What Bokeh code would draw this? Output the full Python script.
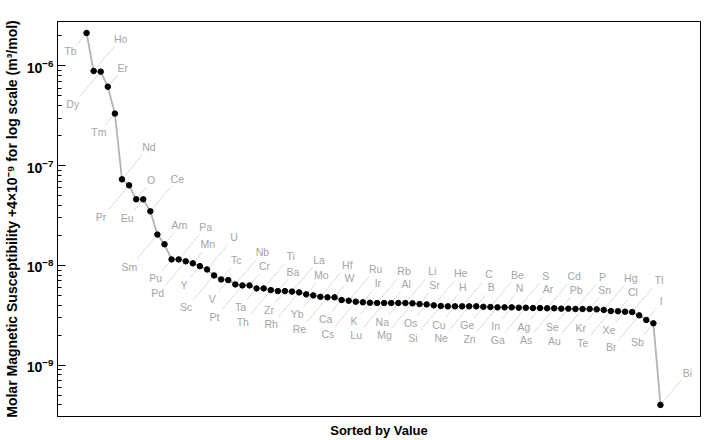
import math
from bokeh.plotting import figure
from bokeh.models import Range1d, ColumnDataSource, FixedTicker, LogTickFormatter
from bokeh.embed import file_html
from bokeh.resources import INLINE
from bokeh.core.properties import value

# ---- data ----
elements = ["Tb", "Ho", "Dy", "Er", "Tm", "Nd", "Pr", "O", "Eu", "Ce",
            "Sm", "Am", "Pu", "Pa", "Pd", "Mn", "Y", "U", "Sc", "Tc",
            "V", "Nb", "Pt", "Cr", "Ta", "Ti", "Th", "Ba", "Zr", "La",
            "Rh", "Mo", "Yb", "Hf", "Re", "W", "Ca", "Ru", "Cs", "Ir",
            "K", "Rb", "Lu", "Al", "Na", "Li", "Mg", "Sr", "Os", "He",
            "Si", "H", "Cu", "C", "Ne", "B", "Ge", "Be", "Zn", "N",
            "In", "S", "Ga", "Ar", "Ag", "Cd", "As", "Pb", "Se", "P",
            "Au", "Sn", "Kr", "Hg", "Te", "Cl", "Xe", "Tl", "Br", "I",
            "Sb", "Bi"]

susceptibility = [2.14e-6, 8.9e-7, 8.77e-7, 6.2e-7, 3.33e-7, 7.3e-8, 6.35e-8, 4.6e-8, 4.6e-8, 3.49e-8,
                  2.04e-8, 1.63e-8, 1.15e-8, 1.15e-8, 1.10e-8, 1.05e-8, 9.84e-9, 9.12e-9, 7.94e-9, 7.24e-9,
                  7.13e-9, 6.46e-9, 6.31e-9, 6.31e-9, 5.89e-9, 5.89e-9, 5.66e-9, 5.53e-9, 5.53e-9, 5.47e-9,
                  5.37e-9, 5.13e-9, 5.01e-9, 4.85e-9, 4.79e-9, 4.79e-9, 4.50e-9, 4.43e-9, 4.33e-9, 4.27e-9,
                  4.23e-9, 4.20e-9, 4.20e-9, 4.20e-9, 4.20e-9, 4.20e-9, 4.17e-9, 4.10e-9, 4.07e-9, 3.98e-9,
                  3.92e-9, 3.89e-9, 3.89e-9, 3.89e-9, 3.89e-9, 3.89e-9, 3.85e-9, 3.83e-9, 3.80e-9, 3.80e-9,
                  3.80e-9, 3.77e-9, 3.77e-9, 3.74e-9, 3.74e-9, 3.72e-9, 3.72e-9, 3.69e-9, 3.69e-9, 3.66e-9,
                  3.66e-9, 3.66e-9, 3.63e-9, 3.58e-9, 3.49e-9, 3.47e-9, 3.44e-9, 3.41e-9, 3.16e-9, 2.84e-9,
                  2.63e-9, 4.0e-10]

rank = list(range(1, len(elements) + 1))
y_ticks = [1e-9, 1e-8, 1e-7, 1e-6]

x_title = "Sorted by Value"
y_title = "Molar Magnetic Susceptibility +4\u00d710\u207b\u2079 for log scale (m\u00b3/mol)"

# ---- label placement (callout style: cycles above/below, short/long) ----
offsets = {0: (15, -19), 1: (-16, 18.5), 2: (27, -32), 3: (-28, 32)}
lead_len = {0: 15, 1: 15, 2: 32, 3: 32}
codes = [r % 4 for r in rank]
dx = [offsets[c][0] for c in codes]
dy = [offsets[c][1] for c in codes]
ang = [math.radians(50) if c in (0, 2) else math.radians(230) for c in codes]
ln = [lead_len[c] for c in codes]

src = ColumnDataSource(dict(x=rank, y=susceptibility, name=elements,
                            dx=dx, dy=dy, ang=ang, ln=ln))

p = figure(width=720, height=440, y_axis_type="log",
           x_range=Range1d(-3.1, 87.65), y_range=Range1d(3.06e-10, 2.79e-6),
           output_backend="svg", toolbar_location=None,
           min_border_left=57, min_border_right=20, min_border_top=21, min_border_bottom=23)

p.xgrid.visible = False
p.ygrid.visible = False
p.background_fill_color = "white"
p.border_fill_color = "white"
p.outline_line_color = "black"
p.outline_line_width = 1
p.outline_line_alpha = 1

# leaders
p.ray(x="x", y="y", length="ln", angle="ang", length_units="screen", source=src,
      line_color="#d2d2d2", line_width=0.8)
# connecting line
p.line(x="x", y="y", source=src, line_color="#b4b4b4", line_width=1.8)
# points
p.scatter(x="x", y="y", source=src, size=5.5, fill_color="black", line_color="black")
# labels
p.text(x="x", y="y", text="name", x_offset="dx", y_offset="dy", source=src,
       text_align="center", text_baseline="middle",
       text_font=value("Liberation Sans"), text_font_size=value("10.5px"),
       text_color="#a4a4a4")

# y axis
minor = [m * 10.0 ** e for e in range(-10, -5) for m in range(2, 10)]
p.yaxis.ticker = FixedTicker(ticks=y_ticks, minor_ticks=minor)
p.yaxis.formatter = LogTickFormatter(min_exponent=0)
p.yaxis.axis_label = y_title
p.yaxis.axis_label_text_font = "Liberation Sans"
p.yaxis.axis_label_text_font_style = "bold"
p.yaxis.axis_label_text_font_size = "14px"
p.yaxis.axis_label_text_color = "black"
p.yaxis.axis_label_standoff = 4
p.yaxis.major_label_text_font = "Liberation Sans"
p.yaxis.major_label_text_font_style = "bold"
p.yaxis.major_label_text_font_size = "14px"
p.yaxis.major_label_text_color = "black"
p.yaxis.major_label_standoff = 4
p.yaxis.major_tick_in = 8
p.yaxis.major_tick_out = 0
p.yaxis.minor_tick_in = 4
p.yaxis.minor_tick_out = 0
p.yaxis.major_tick_line_color = "black"
p.yaxis.minor_tick_line_color = "black"
p.yaxis.axis_line_color = "black"

# x axis
p.xaxis.ticker = FixedTicker(ticks=[])
p.xaxis.axis_label = x_title
p.xaxis.axis_label_text_font = "Liberation Sans"
p.xaxis.axis_label_text_font_style = "bold"
p.xaxis.axis_label_text_font_size = "13px"
p.xaxis.axis_label_text_color = "black"
p.xaxis.axis_label_standoff = 6
p.xaxis.major_label_standoff = 0
p.xaxis.major_tick_in = 0
p.xaxis.major_tick_out = 0
p.xaxis.minor_tick_in = 0
p.xaxis.minor_tick_out = 0
p.xaxis.axis_line_color = "black"

open("out.html", "w").write(file_html(p, INLINE))
